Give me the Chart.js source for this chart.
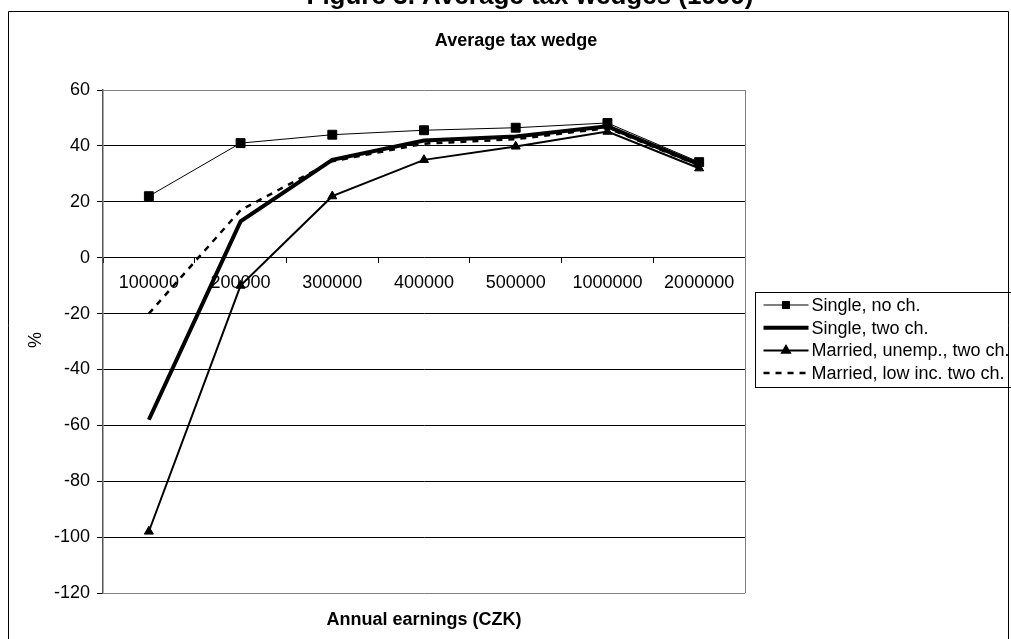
<!DOCTYPE html>
<html>
<head>
<meta charset="utf-8">
<script src="https://cdn.jsdelivr.net/npm/chart.js@4/dist/chart.umd.min.js"></script>
<style>
  html, body { margin: 0; padding: 0; background: #fff; }
  #wrap { width: 1011px; height: 639px; }
</style>
</head>
<body>
<div id="wrap"><canvas id="c" width="1011" height="639"></canvas></div>
<script>
// Annual earnings brackets (CZK)
const categories = ['100000', '200000', '300000', '400000', '500000', '1000000', '2000000'];

// Average tax wedge, % of labour cost
const singleNoChildren = [22, 41, 44, 45.6, 46.5, 48.2, 34.2];
const singleTwoChildren = [-58, 13, 35, 41.9, 43.4, 47, 33.4];
const marriedUnempTwoChildren = [-98, -10, 22, 35, 39.8, 45.1, 32];
const marriedLowIncTwoChildren = [-20, 17, 34.5, 40.8, 42.4, 46.4, 33];

const seriesNames = [
  'Single, no ch.',
  'Single, two ch.',
  'Married, unemp., two ch.',
  'Married, low inc. two ch.'
];

const yTicks = { min: -120, max: 60, step: 20 };

const FONT = "'Liberation Sans', Arial, sans-serif";

// Frame, headings and axis titles drawn around the plot
const decorations = {
  id: 'decorations',
  beforeDraw(chart) {
    const ctx = chart.ctx;
    const a = chart.chartArea;
    ctx.save();
    ctx.fillStyle = '#fff';
    ctx.fillRect(0, 0, chart.width, chart.height);

    // outer frame
    ctx.strokeStyle = '#000';
    ctx.lineWidth = 1;
    ctx.beginPath();
    ctx.moveTo(8.5, 700);
    ctx.lineTo(8.5, 11.5);
    ctx.lineTo(1008.5, 11.5);
    ctx.lineTo(1008.5, 700);
    ctx.stroke();

    ctx.fillStyle = '#000';
    ctx.textAlign = 'center';
    ctx.textBaseline = 'alphabetic';
    ctx.font = 'bold 26px ' + FONT;
    ctx.fillText('Figure 3. Average tax wedges (1999)', 530, 4);

    ctx.font = 'bold 18px ' + FONT;
    ctx.textBaseline = 'middle';
    ctx.fillText('Average tax wedge', 516, 41);
    ctx.fillText('Annual earnings (CZK)', (a.left + a.right) / 2, 620);

    ctx.font = '18px ' + FONT;
    ctx.translate(36, 340);
    ctx.rotate(-Math.PI / 2);
    ctx.fillText('%', 0, 0);
    ctx.restore();
  },
  beforeDatasetsDraw(chart) {
    const ctx = chart.ctx;
    const a = chart.chartArea;
    ctx.save();
    ctx.strokeStyle = '#808080';
    ctx.lineWidth = 1;
    ctx.beginPath();
    ctx.moveTo(Math.round(a.right) + 0.5, a.top);
    ctx.lineTo(Math.round(a.right) + 0.5, a.bottom);
    ctx.stroke();
    ctx.restore();
  }
};

// Boxed legend to the right of the plot
const boxedLegend = {
  id: 'boxedLegend',
  afterDraw(chart) {
    const ctx = chart.ctx;
    const left = 755.5, top = 292.5, rowH = 22.7;
    ctx.save();
    ctx.strokeStyle = '#000';
    ctx.lineWidth = 1;
    ctx.strokeRect(left, top, 300, 95);
    chart.data.datasets.forEach((ds, i) => {
      const y = top + 12.5 + i * rowH;
      const x0 = left + 8, x1 = left + 53;
      ctx.strokeStyle = ds.borderColor;
      ctx.lineWidth = ds.borderWidth;
      ctx.setLineDash(ds.borderDash || []);
      ctx.beginPath();
      ctx.moveTo(x0, y);
      ctx.lineTo(x1, y);
      ctx.stroke();
      ctx.setLineDash([]);
      if (ds.pointRadius > 0) {
        Chart.helpers.drawPoint(ctx, {
          pointStyle: ds.pointStyle,
          radius: ds.pointStyle === 'rect' ? 5 : 4.5,
          borderWidth: 1,
          rotation: 0
        }, (x0 + x1) / 2, y);
        ctx.fillStyle = ds.backgroundColor;
        ctx.fill();
      }
      ctx.fillStyle = '#000';
      ctx.font = '18px ' + FONT;
      ctx.textAlign = 'left';
      ctx.textBaseline = 'middle';
      ctx.fillText(ds.label, x1 + 3, y + 1);
    });
    ctx.restore();
  }
};

new Chart(document.getElementById('c'), {
  type: 'line',
  data: {
    labels: categories,
    datasets: [
      {
        label: seriesNames[0], data: singleNoChildren,
        borderColor: '#000', backgroundColor: '#000', borderWidth: 1,
        pointStyle: 'rect', pointRadius: 6.3, pointBorderWidth: 1
      },
      {
        label: seriesNames[1], data: singleTwoChildren,
        borderColor: '#000', backgroundColor: '#000', borderWidth: 4,
        pointRadius: 0
      },
      {
        label: seriesNames[2], data: marriedUnempTwoChildren,
        borderColor: '#000', backgroundColor: '#000', borderWidth: 2,
        pointStyle: 'triangle', pointRadius: 5.2, pointBorderWidth: 1
      },
      {
        label: seriesNames[3], data: marriedLowIncTwoChildren,
        borderColor: '#000', backgroundColor: '#000', borderWidth: 2.5,
        borderDash: [6, 6], pointRadius: 0
      }
    ]
  },
  options: {
    responsive: false,
    animation: false,
    devicePixelRatio: 1,
    layout: { padding: { top: 90, left: 0, right: 266, bottom: 46 } },
    plugins: {
      legend: { display: false },
      title: { display: false },
      tooltip: { enabled: false }
    },
    elements: { line: { tension: 0 } },
    scales: {
      x: {
        type: 'category',
        position: { y: 0 },
        offset: true,
        grid: {
          offset: true, drawOnChartArea: false, drawTicks: true,
          tickLength: 5, color: '#000'
        },
        border: { display: false },
        ticks: {
          color: '#000', font: { family: FONT, size: 18 },
          padding: 10, maxRotation: 0, autoSkip: false
        },
        afterFit(scale) { scale.height = 0; }
      },
      y: {
        min: yTicks.min, max: yTicks.max,
        grid: {
          color: (c) => (c.tick && (c.tick.value === yTicks.max || c.tick.value === yTicks.min)) ? '#808080' : '#000',
          tickColor: '#000',
          tickLength: 6
        },
        border: { display: true, color: '#555', width: 1.5 },
        ticks: {
          stepSize: yTicks.step, color: '#000',
          font: { family: FONT, size: 18 }, padding: 7
        },
        afterFit(scale) { scale.width = 103; }
      }
    }
  },
  plugins: [decorations, boxedLegend]
});
</script>
</body>
</html>
